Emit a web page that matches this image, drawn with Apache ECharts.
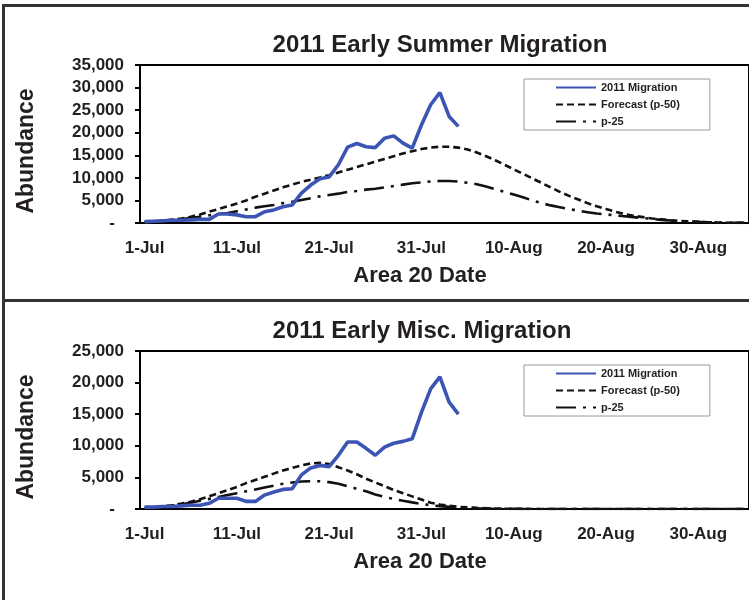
<!DOCTYPE html>
<html>
<head>
<meta charset="utf-8">
<script src="https://cdn.jsdelivr.net/npm/echarts@6/dist/echarts.min.js"></script>
<style>
html,body{margin:0;padding:0;background:#fff;}
#c{width:749px;height:600px;}
</style>
</head>
<body>
<div id="c"></div>
<script>
// ---- data ----
const startDay = 1;          // 1-Jul-2011
const dayCount = 66;         // Jul 1 .. Sep 4
const monthNames = ['Jan','Feb','Mar','Apr','May','Jun','Jul','Aug','Sep','Oct','Nov','Dec'];

const titles = ['2011 Early Summer Migration', '2011 Early Misc. Migration'];
const seriesNames = ['2011 Migration', 'Forecast (p-50)', 'p-25'];
const yMax = [35000, 25000];
const yInterval = 5000;

// Early Summer (daily, from 1-Jul)
const summerMigration = [300, 400, 500, 600, 600, 700, 800, 800, 2000, 2000, 1800, 1400, 1400, 2500, 2900, 3600, 4000, 6600, 8400, 9800, 10200, 12900, 16800, 17600, 16900, 16700, 18800, 19300, 17700, 16600, 21700, 26200, 28900, 23600, 21400];
const summerP50 = [200, 350, 550, 750, 1000, 1400, 1900, 2500, 3100, 3700, 4300, 5000, 5800, 6500, 7200, 7900, 8500, 9100, 9600, 10100, 10600, 11200, 11800, 12400, 13000, 13600, 14200, 14800, 15400, 15900, 16400, 16700, 16900, 16900, 16700, 16300, 15600, 14800, 13900, 12900, 11900, 10900, 9900, 8900, 7900, 6900, 6000, 5200, 4400, 3700, 3100, 2500, 2000, 1600, 1300, 1000, 800, 600, 450, 350, 250, 180, 130, 90, 60, 40];
const summerP25 = [150, 300, 450, 650, 850, 1100, 1400, 1700, 2000, 2200, 2600, 3000, 3400, 3700, 4000, 4400, 4700, 5100, 5500, 5900, 6200, 6500, 6900, 7100, 7400, 7600, 7900, 8200, 8500, 8800, 9000, 9200, 9300, 9300, 9200, 8900, 8600, 8100, 7500, 6900, 6300, 5700, 5000, 4400, 3900, 3500, 3100, 2700, 2400, 2100, 1900, 1700, 1500, 1300, 1100, 900, 700, 550, 420, 320, 240, 170, 120, 80, 50, 30];

// Early Misc. (daily, from 1-Jul)
const miscMigration = [300, 300, 400, 400, 500, 600, 600, 900, 1700, 1700, 1700, 1200, 1200, 2200, 2700, 3100, 3200, 5400, 6500, 6900, 6700, 8500, 10600, 10600, 9600, 8500, 9800, 10400, 10700, 11100, 15300, 19000, 20900, 16900, 15000];
const miscP50 = [200, 300, 450, 600, 850, 1150, 1550, 2000, 2500, 3000, 3500, 4100, 4600, 5100, 5600, 6100, 6500, 6900, 7200, 7300, 7100, 6600, 6100, 5500, 4800, 4200, 3600, 3000, 2500, 2000, 1500, 1000, 700, 500, 350, 250, 180, 120, 80, 50, 30, 20, 10, 0, 0, 0, 0, 0, 0, 0, 0, 0, 0, 0, 0, 0, 0, 0, 0, 0, 0, 0, 0, 0, 0, 0];
const miscP25 = [150, 250, 400, 550, 750, 1000, 1300, 1600, 1900, 2200, 2500, 2800, 3100, 3400, 3700, 4000, 4200, 4350, 4400, 4400, 4250, 4000, 3600, 3200, 2800, 2300, 1900, 1600, 1300, 1050, 800, 600, 450, 330, 240, 170, 120, 80, 50, 30, 20, 10, 0, 0, 0, 0, 0, 0, 0, 0, 0, 0, 0, 0, 0, 0, 0, 0, 0, 0, 0, 0, 0, 0, 0, 0];

// category labels (d-Mon)
const dates = [];
for (let i = 0; i < dayCount; i++) {
  const d = new Date(2011, 6, startDay + i);
  dates.push(d.getDate() + '-' + monthNames[d.getMonth()]);
}

// ---- styling ----
const FONT = '"Liberation Sans", Arial, sans-serif';
const TXT = '#231f20';
const BLUE = '#3a55b3';

const gridTops = [65, 351];
const gridH = 158;

function xAxis(i) {
  return {
    type: 'category', gridIndex: i, data: dates, boundaryGap: true,
    axisLine: { lineStyle: { color: '#000', width: 2 } },
    axisTick: { interval: 9, length: 6, lineStyle: { color: '#000', width: 2 } },
    axisLabel: { interval: 9, margin: 17, color: TXT, fontFamily: FONT, fontWeight: 'bold', fontSize: 17 },
    splitLine: { show: false }
  };
}
function yAxis(i) {
  return {
    type: 'value', gridIndex: i, min: 0, max: yMax[i], interval: yInterval,
    axisLine: { show: true, lineStyle: { color: '#000', width: 2 } },
    axisTick: { show: true, length: 5, lineStyle: { color: '#000', width: 2 } },
    axisLabel: {
      margin: 16, color: TXT, fontFamily: FONT, fontWeight: 'bold', fontSize: 17,
      formatter: v => v === 0 ? '{z|-}' : v.toLocaleString('en-US'),
      rich: { z: { padding: [0, 9, 0, 0], fontFamily: FONT, fontWeight: 'bold', fontSize: 17, color: TXT } }
    },
    splitLine: { show: false }
  };
}
function lines(i, mig, p50, p25) {
  return [
    { name: seriesNames[0], type: 'line', xAxisIndex: i, yAxisIndex: i, data: mig, symbol: 'none',
      lineStyle: { color: BLUE, width: 3.6 }, itemStyle: { color: BLUE }, z: 3 },
    { name: seriesNames[1], type: 'line', xAxisIndex: i, yAxisIndex: i, data: p50, symbol: 'none',
      lineStyle: { color: '#111', width: 2.6, type: [7, 4] }, itemStyle: { color: '#111' }, z: 2 },
    { name: seriesNames[2], type: 'line', xAxisIndex: i, yAxisIndex: i, data: p25, symbol: 'none',
      lineStyle: { color: '#111', width: 2.6, type: [20, 7, 3, 7] }, itemStyle: { color: '#111' }, z: 2 }
  ];
}
function legend(top) {
  return {
    data: seriesNames, orient: 'vertical', left: 524, top: top,
    itemWidth: 40, itemHeight: 12, itemGap: 6,
    padding: [3, 30, 3, 31],
    borderColor: '#9a9a9a', borderWidth: 1,
    itemStyle: { opacity: 0 },
    textStyle: { color: TXT, fontFamily: FONT, fontWeight: 'bold', fontSize: 11 },
    selectedMode: false
  };
}
function txt(text, x, y, size, rot) {
  return { type: 'text', x: x, y: y, rotation: rot || 0, silent: true,
    style: { text: text, fill: TXT, font: 'bold ' + size + 'px ' + FONT, textAlign: 'center', textVerticalAlign: 'middle' } };
}

const chart = echarts.init(document.getElementById('c'), null, { renderer: 'canvas' });
chart.setOption({
  animation: false,
  backgroundColor: '#fff',
  grid: [
    { left: 140, right: -3, top: gridTops[0], height: gridH, show: true, borderColor: '#000', borderWidth: 2 },
    { left: 140, right: -3, top: gridTops[1], height: gridH, show: true, borderColor: '#000', borderWidth: 2 }
  ],
  xAxis: [xAxis(0), xAxis(1)],
  yAxis: [yAxis(0), yAxis(1)],
  legend: [legend(79), legend(365)],
  series: [].concat(lines(0, summerMigration, summerP50, summerP25), lines(1, miscMigration, miscP50, miscP25)),
  graphic: [
    { type: 'line', silent: true, shape: { x1: 3.5, y1: 5, x2: 3.5, y2: 600 }, style: { stroke: '#333', lineWidth: 3 } },
    { type: 'line', silent: true, shape: { x1: 2, y1: 5.5, x2: 749, y2: 5.5 }, style: { stroke: '#333', lineWidth: 3 } },
    { type: 'line', silent: true, shape: { x1: 2, y1: 300.5, x2: 749, y2: 300.5 }, style: { stroke: '#333', lineWidth: 3 } },
    txt(titles[0], 440, 45, 24),
    txt(titles[1], 422, 331, 24),
    txt('Area 20 Date', 420, 276, 22),
    txt('Area 20 Date', 420, 562, 22),
    txt('Abundance', 27, 151, 23, Math.PI / 2),
    txt('Abundance', 27, 437, 23, Math.PI / 2)
  ]
});
</script>
</body>
</html>
